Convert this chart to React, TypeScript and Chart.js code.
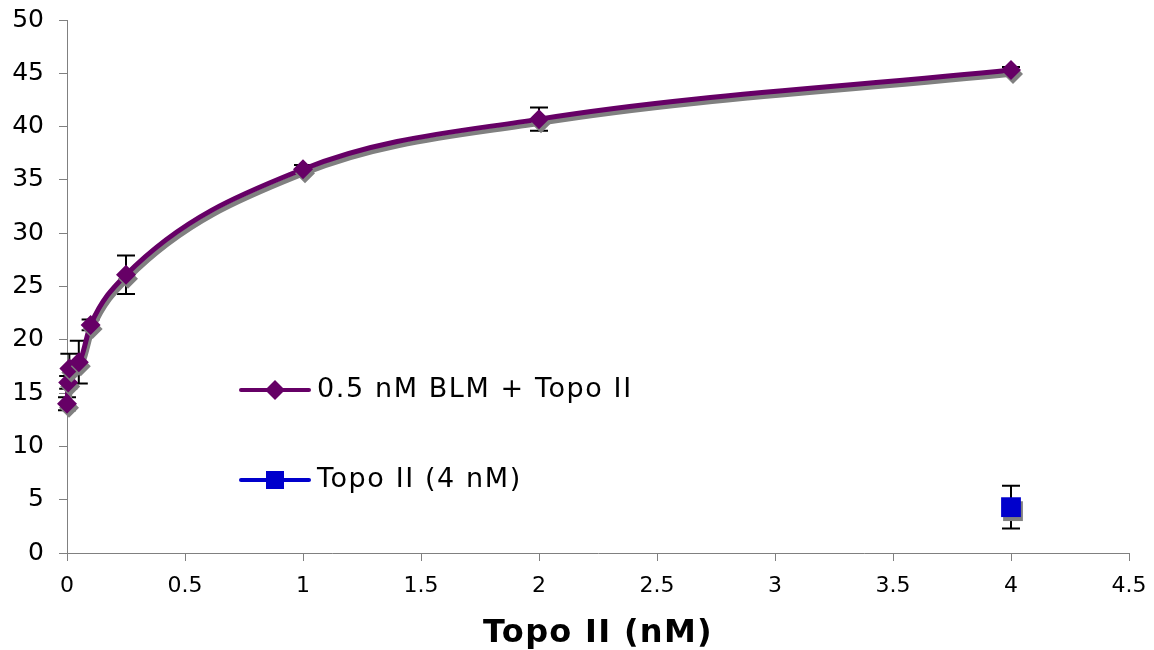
import React, { useEffect, useRef } from "react";
import { Chart, registerables } from "chart.js";

Chart.register(...registerables);

const blmX = [0, 0.005, 0.01, 0.05, 0.1, 0.25, 1, 2, 4];
const blmY = [14.0, 16.0, 17.3, 17.9, 21.4, 26.1, 36.0, 40.7, 45.3];
const blmErr = [0.6, 0.6, 1.4, 2.0, 0.5, 1.8, 0.4, 1.1, 0.3];

const topoX = [4];
const topoY = [4.3];
const topoErr = [2.0];

const seriesNames = ["0.5 nM BLM + Topo II", "Topo II (4 nM)"];
const xTitle = "Topo II (nM)";

const FONT = "'DejaVu Sans', Verdana, sans-serif";
const PURPLE = "#660066";
const BLUE = "#0000CC";

const errors = [blmErr, topoErr];

const customPlugin = {
  id: "custom",
  beforeDatasetsDraw(chart: any) {
    const ctx = chart.ctx;
    const xs = chart.scales.x;
    const ys = chart.scales.y;
    ctx.save();
    ctx.strokeStyle = "#000";
    ctx.lineWidth = 2;
    chart.data.datasets.forEach((ds: any, di: number) => {
      ds.data.forEach((p: any, i: number) => {
        const e = errors[di][i];
        const px = xs.getPixelForValue(p.x);
        const top = ys.getPixelForValue(p.y + e);
        const bot = ys.getPixelForValue(p.y - e);
        ctx.beginPath();
        ctx.moveTo(px, top);
        ctx.lineTo(px, bot);
        ctx.moveTo(px - 9, top);
        ctx.lineTo(px + 9, top);
        ctx.moveTo(px - 9, bot);
        ctx.lineTo(px + 9, bot);
        ctx.stroke();
      });
    });
    ctx.restore();
    ctx.save();
    ctx.shadowColor = "#808080";
    ctx.shadowOffsetX = 2;
    ctx.shadowOffsetY = 4;
    ctx.shadowBlur = 0;
  },
  afterDatasetsDraw(chart: any) {
    const ctx = chart.ctx;
    ctx.restore();
    const a = chart.chartArea;
    const items = [
      { name: seriesNames[0], color: PURPLE, shape: "diamond", y: a.top + 370 },
      { name: seriesNames[1], color: BLUE, shape: "square", y: a.top + 460 },
    ];
    const x0 = a.left + 174;
    items.forEach((it) => {
      ctx.save();
      ctx.strokeStyle = it.color;
      ctx.lineWidth = 4;
      ctx.lineCap = "round";
      ctx.beginPath();
      ctx.moveTo(x0, it.y);
      ctx.lineTo(x0 + 68, it.y);
      ctx.stroke();
      ctx.fillStyle = it.color;
      const cx = x0 + 34;
      ctx.beginPath();
      if (it.shape === "diamond") {
        ctx.moveTo(cx, it.y - 10);
        ctx.lineTo(cx + 10, it.y);
        ctx.lineTo(cx, it.y + 10);
        ctx.lineTo(cx - 10, it.y);
        ctx.closePath();
      } else {
        ctx.rect(cx - 9, it.y - 9, 18, 18);
      }
      ctx.fill();
      ctx.fillStyle = "#000";
      ctx.font = `27px ${FONT}`;
      (ctx as any).letterSpacing = "1.6px";
      ctx.textBaseline = "middle";
      ctx.textAlign = "left";
      ctx.fillText(it.name, x0 + 76, it.y);
      ctx.restore();
    });
  },
  afterDraw(chart: any) {
    const ctx = chart.ctx;
    const a = chart.chartArea;
    ctx.save();
    ctx.fillStyle = "#000";
    ctx.font = `bold 32px ${FONT}`;
    (ctx as any).letterSpacing = "1.3px";
    ctx.textAlign = "center";
    ctx.textBaseline = "middle";
    ctx.fillText(xTitle, (a.left + a.right) / 2, a.bottom + 81);
    ctx.restore();
  },
};

export default function App() {
  const ref = useRef<HTMLCanvasElement | null>(null);
  useEffect(() => {
    if (!ref.current) return;
    const chart = new Chart(ref.current, {
      type: "scatter",
      data: {
        datasets: [
          {
            label: seriesNames[0],
            data: blmX.map((x, i) => ({ x, y: blmY[i] })),
            showLine: true,
            borderColor: PURPLE,
            backgroundColor: PURPLE,
            borderWidth: 5,
            cubicInterpolationMode: "monotone",
            pointStyle: "rectRot",
            pointRadius: 10,
            pointHoverRadius: 10,
            pointBorderWidth: 0,
            clip: false,
          } as any,
          {
            label: seriesNames[1],
            data: topoX.map((x, i) => ({ x, y: topoY[i] })),
            showLine: true,
            borderColor: BLUE,
            backgroundColor: BLUE,
            borderWidth: 4,
            pointStyle: "rect",
            pointRadius: 14,
            pointHoverRadius: 14,
            pointBorderWidth: 0,
            clip: false,
          } as any,
        ],
      },
      options: {
        animation: false,
        responsive: false,
        events: [],
        layout: { padding: { top: 20, right: 25, left: 0, bottom: 0 } },
        plugins: { legend: { display: false }, tooltip: { enabled: false } },
        scales: {
          x: {
            type: "linear",
            min: 0,
            max: 4.5,
            ticks: {
              stepSize: 0.5,
              color: "#000",
              font: { family: FONT, size: 22 },
              padding: 12,
              maxRotation: 0,
              callback: (v: any) => String(Math.round(Number(v) * 10) / 10),
            },
            grid: { drawOnChartArea: false, drawTicks: true, tickLength: 8, color: "#808080", lineWidth: 1 },
            border: { color: "#808080", width: 1 },
            afterFit: (s: any) => {
              s.height = 97;
              s.paddingLeft = 0;
              s.paddingRight = 0;
            },
          },
          y: {
            type: "linear",
            min: 0,
            max: 50,
            ticks: {
              stepSize: 5,
              color: "#000",
              font: { family: FONT, size: 25 },
              padding: 15,
            },
            grid: { drawOnChartArea: false, drawTicks: true, tickLength: 8, color: "#808080", lineWidth: 1 },
            border: { color: "#808080", width: 1 },
            afterFit: (s: any) => {
              s.width = 67;
              s.paddingTop = 0;
              s.paddingBottom = 0;
            },
          },
        },
      },
      plugins: [customPlugin],
    });
    return () => chart.destroy();
  }, []);
  return (
    <div style={{ position: "fixed", left: 0, top: 0, width: 1154, height: 650, background: "#fff" }}>
      <canvas ref={ref} width={1154} height={650} style={{ width: 1154, height: 650 }} />
    </div>
  );
}
